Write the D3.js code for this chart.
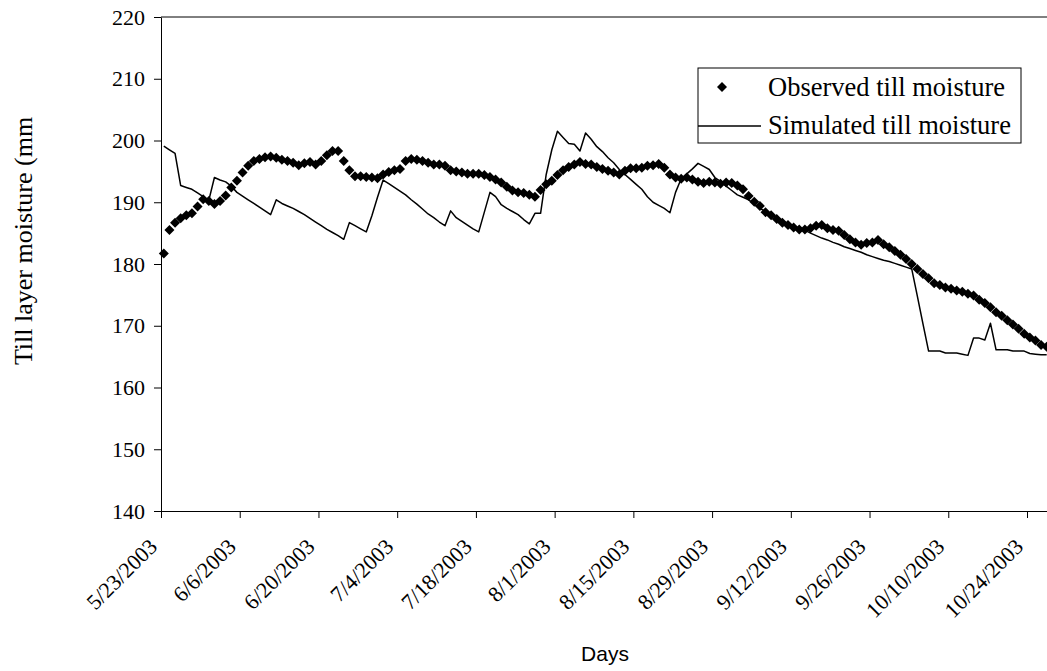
<!DOCTYPE html>
<html>
<head>
<meta charset="utf-8">
<script src="https://cdn.jsdelivr.net/npm/d3@7"></script>
<style>
  html, body { margin: 0; padding: 0; background: #fff; overflow: hidden; }
  svg { display: block; }
  .serif { font-family: "Liberation Serif", "Times New Roman", serif; }
  .sans { font-family: "Liberation Sans", Arial, sans-serif; }
</style>
</head>
<body>
<svg id="chart" width="1047" height="671"></svg>
<script>
// first day of the series, one value per day after it
const startDay = "5/23/2003";

// observed till moisture (mm), daily
const observed = [
  181.7, 185.5, 186.7, 187.4, 187.9, 188.2, 189.3, 190.5, 190.2, 189.7,
  190.2, 191.1, 192.4, 193.5, 194.8, 195.9, 196.7, 197.0, 197.3, 197.4,
  197.2, 196.9, 196.7, 196.4, 196.0, 196.3, 196.5, 196.1, 196.7, 197.6,
  198.3, 198.3, 196.7, 195.2, 194.2, 194.2, 194.1, 194.0, 193.9, 194.5,
  194.9, 195.2, 195.4, 196.7, 197.0, 196.9, 196.7, 196.4, 196.1, 196.1,
  195.9, 195.2, 195.0, 194.8, 194.6, 194.6, 194.6, 194.4, 194.1, 193.7,
  193.2, 192.5, 191.9, 191.6, 191.5, 191.2, 190.9, 192.0, 192.9, 193.5,
  194.4, 195.2, 195.7, 196.1, 196.5, 196.2, 196.1, 195.7, 195.4, 195.1,
  194.8, 194.5, 195.1, 195.5, 195.5, 195.6, 195.9, 196.0, 196.2, 195.6,
  194.5, 194.0, 193.8, 194.0, 193.7, 193.3, 193.1, 193.3, 193.2, 193.0,
  193.2, 193.1, 192.7, 192.1, 191.0, 190.1, 189.4, 188.4, 187.9, 187.3,
  186.7, 186.3, 185.9, 185.6, 185.6, 185.8, 186.2, 186.3, 185.8, 185.5,
  185.4, 184.7, 184.0, 183.5, 183.1, 183.4, 183.5, 183.9, 183.2, 182.7,
  182.1, 181.5, 180.8, 180.0, 179.2, 178.4, 177.7, 176.9, 176.6, 176.2,
  176.0, 175.7, 175.5, 175.2, 174.9, 174.2, 173.7, 173.0, 172.2, 171.6,
  170.9, 170.2, 169.5, 168.7, 168.1, 167.6, 166.9, 166.6
];

// simulated till moisture (mm), daily
const simulated = [
  199.1, 198.5, 197.9, 192.7, 192.4, 192.1, 191.5, 190.9, 190.3, 194.0,
  193.6, 193.3, 192.6, 191.6, 191.0, 190.4, 189.8, 189.2, 188.6, 188.0,
  190.4, 189.8, 189.4, 189.0, 188.5, 188.0, 187.4, 186.8, 186.2, 185.6,
  185.1, 184.6, 184.0, 186.7, 186.2, 185.7, 185.2, 187.8, 190.8, 193.6,
  193.0, 192.4, 191.8, 191.2, 190.4, 189.7, 188.9, 188.1, 187.5, 186.8,
  186.2, 188.6, 187.5, 186.9, 186.3, 185.7, 185.2, 188.4, 191.6, 190.9,
  189.6, 189.0, 188.5, 188.0, 187.2, 186.5, 188.2, 188.2, 194.5, 198.5,
  201.5, 200.5, 199.5, 199.4, 198.3, 201.2, 200.2, 199.0, 198.2, 197.2,
  196.4, 195.3, 194.5, 193.7, 192.9, 192.1, 190.9, 190.0, 189.5, 189.0,
  188.3, 191.6, 193.8, 194.6, 195.4, 196.3, 195.8, 195.3, 194.0, 193.4,
  192.6, 191.9, 191.2, 190.8, 190.4, 189.7, 189.0, 188.5, 188.0, 187.5,
  187.0, 186.5, 186.0, 185.7, 185.5, 185.0, 184.6, 184.2, 183.9, 183.5,
  183.2, 182.8, 182.5, 182.2, 181.9, 181.5, 181.2, 180.9, 180.6, 180.4,
  180.1, 179.8, 179.5, 179.2, 174.8, 170.3, 165.9, 165.9, 165.9, 165.6,
  165.6, 165.6, 165.4, 165.2, 168.0, 168.0, 167.7, 170.4, 166.1, 166.1,
  166.1, 165.9, 165.9, 165.9, 165.5, 165.4, 165.3, 165.3
];

const xTickLabels = [
  "5/23/2003", "6/6/2003", "6/20/2003", "7/4/2003", "7/18/2003", "8/1/2003",
  "8/15/2003", "8/29/2003", "9/12/2003", "9/26/2003", "10/10/2003", "10/24/2003"
];
const yTicks = [140, 150, 160, 170, 180, 190, 200, 210, 220];
const seriesNames = ["Observed till moisture", "Simulated till moisture"];

const parseDay = d3.timeParse("%m/%d/%Y");
const start = parseDay(startDay);

const svg = d3.select("#chart");
const plotLeft = 161, plotTop = 17, plotBottom = 511;
const pxPerDay = (1027 - 161) / 154;
const nDays = observed.length;

const x = d3.scaleTime()
  .domain([start, d3.timeDay.offset(start, nDays)])
  .range([plotLeft, plotLeft + nDays * pxPerDay]);
const y = d3.scaleLinear().domain([140, 220]).range([plotBottom, plotTop]);

// points sit in the middle of their day
const dayMid = (i) => d3.timeHour.offset(d3.timeDay.offset(start, i), 12);

// plot frame (top edge)
svg.append("line")
  .attr("x1", plotLeft).attr("x2", x.range()[1])
  .attr("y1", plotTop).attr("y2", plotTop)
  .attr("stroke", "#000").attr("stroke-width", 1);

// y axis
const yAxis = svg.append("g")
  .attr("transform", `translate(${plotLeft},0)`)
  .call(d3.axisLeft(y).tickValues(yTicks).tickSize(7).tickSizeOuter(0).tickPadding(9));
yAxis.selectAll("text").attr("class", "serif").style("font-size", "22px").attr("fill", "#000");
yAxis.select(".domain").attr("stroke", "#000");

// x axis
const xTickDates = xTickLabels.map(parseDay);
const xAxis = svg.append("g")
  .attr("transform", `translate(0,${plotBottom})`)
  .call(d3.axisBottom(x).tickValues(xTickDates).tickSize(7).tickSizeOuter(0)
    .tickFormat((d, i) => xTickLabels[i]));
xAxis.select(".domain").attr("stroke", "#000");
xAxis.selectAll("text")
  .attr("class", "serif")
  .style("font-size", "22px")
  .attr("fill", "#000")
  .attr("text-anchor", "end")
  .attr("dy", 0)
  .attr("y", 0)
  .attr("transform", "translate(-3,37) rotate(-45)");

// axis titles
svg.append("text")
  .attr("class", "serif")
  .attr("transform", "translate(32,241) rotate(-90)")
  .attr("text-anchor", "middle")
  .style("font-size", "26px")
  .text("Till layer moisture (mm");

svg.append("text")
  .attr("class", "sans")
  .attr("x", 605).attr("y", 661)
  .attr("text-anchor", "middle")
  .style("font-size", "21px")
  .text("Days");

// simulated line
const line = d3.line()
  .x((d, i) => x(dayMid(i)))
  .y((d) => y(d));

svg.append("path")
  .datum(simulated)
  .attr("fill", "none")
  .attr("stroke", "#000")
  .attr("stroke-width", 1.5)
  .attr("stroke-linejoin", "round")
  .attr("d", line);

// observed diamonds
const r = 5;
const diamond = `M0,${-r}L${r},0L0,${r}L${-r},0Z`;
svg.append("g")
  .selectAll("path")
  .data(observed)
  .enter()
  .append("path")
  .attr("d", diamond)
  .attr("fill", "#000")
  .attr("transform", (d, i) => `translate(${x(dayMid(i))},${y(d)})`);

// legend
const legend = svg.append("g").attr("transform", "translate(698,68)");
legend.append("rect")
  .attr("width", 323).attr("height", 75)
  .attr("fill", "#fff").attr("stroke", "#000").attr("stroke-width", 1);
legend.append("path")
  .attr("d", diamond)
  .attr("fill", "#000")
  .attr("transform", "translate(24,19)");
legend.append("line")
  .attr("x1", 0).attr("x2", 63)
  .attr("y1", 58).attr("y2", 58)
  .attr("stroke", "#000").attr("stroke-width", 1.5);
legend.selectAll("text.lab")
  .data(seriesNames)
  .enter()
  .append("text")
  .attr("class", "serif lab")
  .attr("x", 70)
  .attr("y", (d, i) => 28 + i * 38)
  .style("font-size", "26.5px")
  .text((d) => d);
</script>
</body>
</html>
